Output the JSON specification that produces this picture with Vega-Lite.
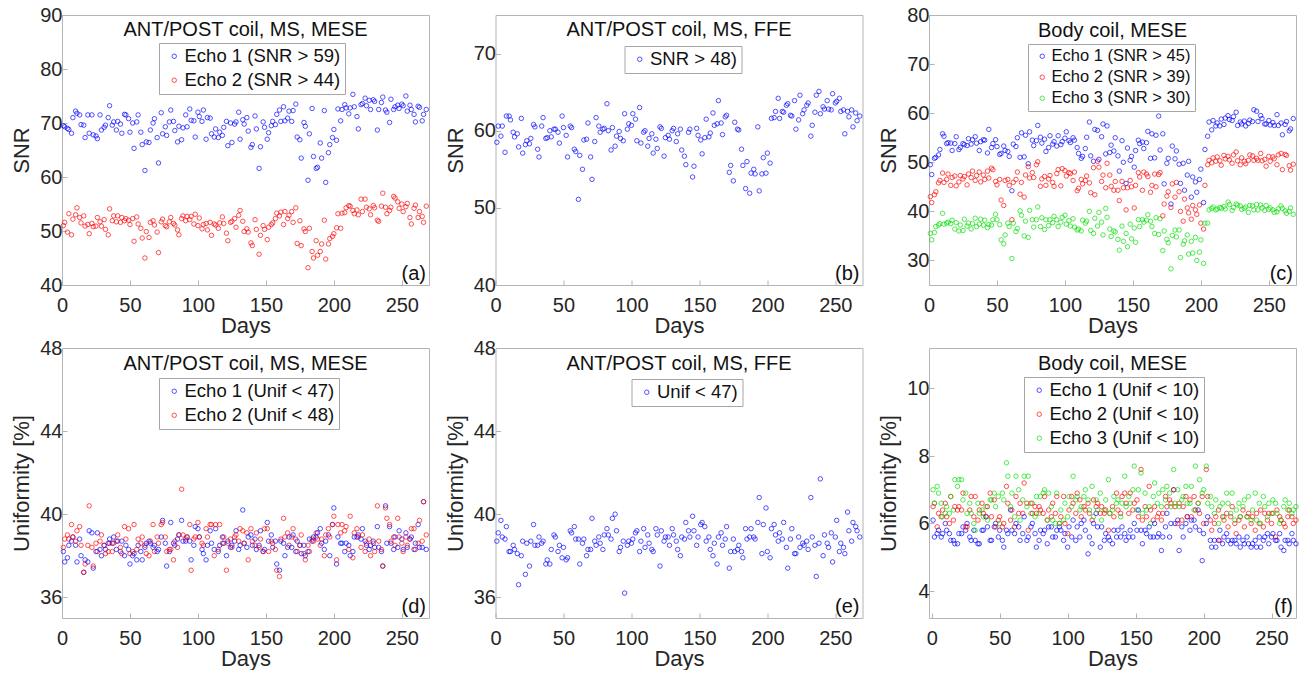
{
"$schema": "https://vega.github.io/schema/vega-lite/v6.json",
"autosize": {"type": "pad"},
"padding": {"left": 10, "top": 4, "right": 0, "bottom": 0},
"background": "white",
"datasets": {"t": [
{"d":1,"a1":69.5,"a2":51.0,"b":58.5,"c1":49.5,"c2":43.0,"c3":35.5,"u1":38.2,"u2":38.4,"e":38.7,"f1":6.1,"f2":6.5,"f3":7.0},
{"d":2,"a1":69.3,"a2":51.6,"b":60.6,"c1":47.5,"c2":41.8,"c3":34.2,"u1":37.7,"u2":38.8,"e":39.1,"f1":5.6,"f2":6.6,"f3":6.6},
{"d":4,"a1":69.0,"a2":49.8,"b":59.3,"c1":50.8,"c2":43.4,"c3":35.7,"u1":37.9,"u2":39.0,"e":39.7,"f1":5.7,"f2":5.9,"f3":7.1},
{"d":5,"a1":68.8,"a2":53.2,"b":60.6,"c1":51.0,"c2":44.0,"c3":36.9,"u1":38.5,"u2":38.8,"e":38.9,"f1":5.8,"f2":6.3,"f3":6.9},
{"d":7,"a1":68.1,"a2":49.3,"b":57.2,"c1":51.5,"c2":45.8,"c3":37.2,"u1":38.7,"u2":39.5,"e":38.8,"f1":5.6,"f2":6.2,"f3":6.6},
{"d":8,"a1":71.0,"a2":52.2,"b":61.9,"c1":52.6,"c2":46.3,"c3":37.5,"u1":38.9,"u2":38.9,"e":39.4,"f1":5.7,"f2":6.4,"f3":6.2},
{"d":10,"a1":72.2,"a2":53.0,"b":61.9,"c1":55.8,"c2":47.8,"c3":39.6,"u1":38.5,"u2":38.7,"e":38.2,"f1":6.0,"f2":6.6,"f3":6.3},
{"d":11,"a1":71.8,"a2":54.3,"b":61.4,"c1":55.3,"c2":45.9,"c3":37.4,"u1":37.7,"u2":39.2,"e":38.2,"f1":5.8,"f2":6.2,"f3":6.5},
{"d":13,"a1":71.5,"a2":52.5,"b":59.8,"c1":53.8,"c2":46.5,"c3":37.6,"u1":38.8,"u2":39.4,"e":38.5,"f1":5.7,"f2":6.0,"f3":6.3},
{"d":14,"a1":69.7,"a2":51.5,"b":59.2,"c1":54.0,"c2":47.6,"c3":37.8,"u1":38.0,"u2":38.5,"e":38.3,"f1":5.5,"f2":6.8,"f3":6.8},
{"d":16,"a1":69.6,"a2":52.8,"b":59.6,"c1":53.9,"c2":45.3,"c3":37.5,"u1":37.2,"u2":37.2,"e":38.1,"f1":5.5,"f2":6.1,"f3":6.4},
{"d":17,"a1":67.3,"a2":50.9,"b":57.9,"c1":52.4,"c2":46.9,"c3":38.2,"u1":37.8,"u2":37.6,"e":36.6,"f1":5.4,"f2":6.5,"f3":7.3},
{"d":19,"a1":71.5,"a2":51.2,"b":61.6,"c1":53.8,"c2":47.2,"c3":36.4,"u1":37.7,"u2":38.5,"e":38.0,"f1":5.4,"f2":6.4,"f3":7.1},
{"d":20,"a1":68.1,"a2":49.5,"b":57.1,"c1":55.2,"c2":45.2,"c3":37.7,"u1":39.2,"u2":40.4,"e":38.7,"f1":5.7,"f2":6.5,"f3":7.3},
{"d":22,"a1":71.5,"a2":51.4,"b":58.2,"c1":52.6,"c2":46.0,"c3":36.0,"u1":39.1,"u2":38.4,"e":37.1,"f1":5.7,"f2":6.4,"f3":7.3},
{"d":23,"a1":67.8,"a2":50.8,"b":58.7,"c1":53.0,"c2":47.3,"c3":37.2,"u1":37.4,"u2":37.5,"e":38.6,"f1":5.9,"f2":6.9,"f3":6.7},
{"d":25,"a1":67.6,"a2":50.9,"b":58.3,"c1":53.8,"c2":46.6,"c3":36.1,"u1":38.2,"u2":38.6,"e":37.5,"f1":5.8,"f2":5.9,"f3":6.9},
{"d":26,"a1":67.1,"a2":52.5,"b":59.0,"c1":53.6,"c2":47.1,"c3":38.4,"u1":39.1,"u2":38.2,"e":38.7,"f1":6.0,"f2":5.9,"f3":6.3},
{"d":28,"a1":71.5,"a2":51.7,"b":60.8,"c1":53.4,"c2":45.4,"c3":37.0,"u1":38.3,"u2":38.7,"e":39.5,"f1":5.6,"f2":6.4,"f3":6.6},
{"d":29,"a1":68.7,"a2":50.9,"b":60.5,"c1":54.8,"c2":47.6,"c3":37.6,"u1":38.0,"u2":39.0,"e":38.5,"f1":5.5,"f2":6.8,"f3":6.3},
{"d":31,"a1":69.2,"a2":52.1,"b":57.6,"c1":53.7,"c2":46.9,"c3":36.4,"u1":38.5,"u2":38.5,"e":38.5,"f1":5.8,"f2":6.2,"f3":6.0},
{"d":32,"a1":69.6,"a2":50.3,"b":56.6,"c1":54.6,"c2":48.2,"c3":37.5,"u1":38.3,"u2":38.1,"e":38.9,"f1":5.5,"f2":6.8,"f3":5.8},
{"d":34,"a1":71.0,"a2":49.3,"b":60.6,"c1":55.2,"c2":46.3,"c3":38.6,"u1":38.6,"u2":38.2,"e":38.6,"f1":5.4,"f2":6.1,"f3":6.6},
{"d":35,"a1":73.2,"a2":54.1,"b":61.7,"c1":53.9,"c2":47.3,"c3":36.9,"u1":38.8,"u2":38.6,"e":38.7,"f1":5.4,"f2":6.4,"f3":6.3},
{"d":37,"a1":69.6,"a2":51.9,"b":59.0,"c1":52.4,"c2":48.0,"c3":37.4,"u1":38.6,"u2":38.2,"e":37.6,"f1":5.8,"f2":6.6,"f3":6.4},
{"d":38,"a1":70.2,"a2":52.8,"b":59.1,"c1":54.2,"c2":46.0,"c3":38.4,"u1":38.9,"u2":38.6,"e":37.8,"f1":5.8,"f2":6.3,"f3":6.2},
{"d":40,"a1":68.7,"a2":51.7,"b":60.0,"c1":54.6,"c2":47.4,"c3":37.2,"u1":38.3,"u2":38.7,"e":37.6,"f1":6.2,"f2":6.2,"f3":6.5},
{"d":41,"a1":70.3,"a2":52.8,"b":59.2,"c1":54.5,"c2":46.5,"c3":38.2,"u1":38.7,"u2":39.0,"e":38.3,"f1":5.9,"f2":6.5,"f3":6.1},
{"d":43,"a1":69.8,"a2":51.6,"b":60.2,"c1":51.9,"c2":48.2,"c3":36.7,"u1":38.2,"u2":38.4,"e":39.0,"f1":5.5,"f2":6.9,"f3":6.7},
{"d":44,"a1":68.1,"a2":52.5,"b":60.2,"c1":56.7,"c2":46.8,"c3":37.3,"u1":38.7,"u2":38.1,"e":38.9,"f1":5.5,"f2":6.2,"f3":6.7},
{"d":46,"a1":71.6,"a2":51.9,"b":59.8,"c1":53.0,"c2":48.8,"c3":37.2,"u1":38.0,"u2":39.4,"e":38.2,"f1":5.9,"f2":6.7,"f3":6.9},
{"d":47,"a1":71.5,"a2":52.3,"b":58.4,"c1":53.8,"c2":48.5,"c3":38.3,"u1":38.5,"u2":38.8,"e":38.5,"f1":6.0,"f2":5.9,"f3":6.5},
{"d":49,"a1":70.8,"a2":52.0,"b":61.9,"c1":54.6,"c2":46.1,"c3":39.4,"u1":38.3,"u2":39.3,"e":37.9,"f1":5.6,"f2":6.1,"f3":6.8},
{"d":50,"a1":68.3,"a2":51.2,"b":60.4,"c1":53.2,"c2":45.4,"c3":38.3,"u1":37.6,"u2":38.1,"e":38.4,"f1":5.8,"f2":6.2,"f3":6.0},
{"d":52,"a1":70.0,"a2":52.3,"b":59.4,"c1":51.6,"c2":46.5,"c3":37.3,"u1":38.0,"u2":38.2,"e":37.8,"f1":5.5,"f2":5.9,"f3":6.9},
{"d":53,"a1":65.3,"a2":48.1,"b":56.6,"c1":51.8,"c2":42.3,"c3":34.2,"u1":38.1,"u2":39.5,"e":37.9,"f1":5.3,"f2":6.0,"f3":6.7},
{"d":55,"a1":70.2,"a2":52.6,"b":60.6,"c1":53.3,"c2":41.2,"c3":33.4,"u1":37.8,"u2":38.3,"e":39.2,"f1":5.8,"f2":7.1,"f3":7.8},
{"d":56,"a1":71.5,"a2":51.3,"b":60.4,"c1":52.4,"c2":46.3,"c3":35.2,"u1":38.5,"u2":38.8,"e":39.1,"f1":5.7,"f2":6.6,"f3":7.4},
{"d":58,"a1":68.3,"a2":50.5,"b":57.6,"c1":52.2,"c2":46.5,"c3":37.6,"u1":38.2,"u2":38.6,"e":39.4,"f1":6.4,"f2":6.1,"f3":6.5},
{"d":59,"a1":66.0,"a2":48.7,"b":57.3,"c1":51.2,"c2":45.3,"c3":36.9,"u1":37.8,"u2":38.9,"e":38.8,"f1":5.8,"f2":6.4,"f3":6.9},
{"d":61,"a1":61.2,"a2":45.0,"b":51.1,"c1":44.2,"c2":38.3,"c3":30.4,"u1":38.4,"u2":38.5,"e":38.8,"f1":5.7,"f2":5.9,"f3":6.2},
{"d":62,"a1":66.5,"a2":49.9,"b":56.8,"c1":53.7,"c2":45.9,"c3":37.6,"u1":38.6,"u2":38.1,"e":37.6,"f1":6.0,"f2":6.8,"f3":7.4},
{"d":64,"a1":66.4,"a2":48.8,"b":55.0,"c1":53.2,"c2":46.5,"c3":35.9,"u1":38.7,"u2":38.0,"e":38.6,"f1":5.9,"f2":6.3,"f3":7.0},
{"d":65,"a1":68.7,"a2":51.6,"b":58.8,"c1":55.0,"c2":48.0,"c3":36.5,"u1":38.6,"u2":38.7,"e":38.8,"f1":5.5,"f2":6.6,"f3":6.1},
{"d":67,"a1":70.0,"a2":51.9,"b":58.9,"c1":51.0,"c2":43.5,"c3":40.1,"u1":38.4,"u2":39.5,"e":38.0,"f1":5.7,"f2":6.3,"f3":6.7},
{"d":68,"a1":70.8,"a2":51.1,"b":61.0,"c1":56.0,"c2":45.9,"c3":39.2,"u1":38.5,"u2":38.2,"e":38.3,"f1":6.2,"f2":7.2,"f3":7.4},
{"d":70,"a1":67.3,"a2":49.8,"b":56.6,"c1":51.1,"c2":42.9,"c3":35.0,"u1":38.2,"u2":38.9,"e":38.3,"f1":5.5,"f2":6.6,"f3":6.5},
{"d":71,"a1":62.6,"a2":46.0,"b":53.7,"c1":55.5,"c2":47.4,"c3":38.0,"u1":38.3,"u2":38.6,"e":39.8,"f1":5.6,"f2":5.8,"f3":7.4},
{"d":73,"a1":71.9,"a2":51.7,"b":58.6,"c1":49.7,"c2":49.1,"c3":34.7,"u1":38.9,"u2":39.5,"e":38.7,"f1":5.9,"f2":6.6,"f3":6.3},
{"d":74,"a1":68.0,"a2":52.2,"b":61.7,"c1":56.2,"c2":46.8,"c3":40.2,"u1":39.7,"u2":39.6,"e":38.5,"f1":6.0,"f2":6.3,"f3":6.6},
{"d":76,"a1":69.3,"a2":51.0,"b":60.6,"c1":54.5,"c2":47.9,"c3":38.3,"u1":38.6,"u2":38.9,"e":38.9,"f1":5.7,"f2":6.5,"f3":6.2},
{"d":77,"a1":67.7,"a2":50.8,"b":59.8,"c1":53.4,"c2":46.9,"c3":36.8,"u1":37.5,"u2":38.2,"e":38.6,"f1":5.3,"f2":6.3,"f3":6.8},
{"d":79,"a1":70.2,"a2":51.7,"b":60.2,"c1":54.4,"c2":49.5,"c3":38.3,"u1":38.2,"u2":38.3,"e":38.3,"f1":5.5,"f2":6.5,"f3":6.3},
{"d":80,"a1":72.4,"a2":52.5,"b":60.3,"c1":57.5,"c2":50.1,"c3":40.9,"u1":39.6,"u2":38.3,"e":39.0,"f1":5.8,"f2":6.4,"f3":6.8},
{"d":82,"a1":70.3,"a2":51.4,"b":63.5,"c1":55.1,"c2":45.1,"c3":36.9,"u1":38.6,"u2":37.8,"e":39.3,"f1":5.7,"f2":6.3,"f3":6.9},
{"d":83,"a1":68.6,"a2":51.1,"b":60.0,"c1":53.9,"c2":46.6,"c3":38.7,"u1":38.5,"u2":38.7,"e":39.0,"f1":5.8,"f2":6.8,"f3":7.0},
{"d":85,"a1":66.5,"a2":50.2,"b":57.5,"c1":54.7,"c2":47.1,"c3":36.3,"u1":38.8,"u2":38.4,"e":38.8,"f1":5.4,"f2":6.1,"f3":6.1},
{"d":86,"a1":69.4,"a2":49.3,"b":60.4,"c1":52.2,"c2":45.3,"c3":38.3,"u1":39.0,"u2":39.0,"e":39.8,"f1":5.9,"f2":6.4,"f3":6.9},
{"d":88,"a1":66.9,"a2":52.3,"b":58.0,"c1":53.0,"c2":46.6,"c3":37.1,"u1":39.7,"u2":41.2,"e":40.0,"f1":5.9,"f2":6.2,"f3":6.5},
{"d":89,"a1":69.1,"a2":52.8,"b":59.3,"c1":55.4,"c2":47.3,"c3":38.3,"u1":38.7,"u2":39.0,"e":39.2,"f1":5.6,"f2":6.6,"f3":6.1},
{"d":91,"a1":71.5,"a2":51.9,"b":59.9,"c1":53.7,"c2":45.9,"c3":37.7,"u1":38.7,"u2":38.8,"e":38.2,"f1":5.6,"f2":6.3,"f3":6.0},
{"d":92,"a1":69.3,"a2":52.7,"b":59.0,"c1":54.2,"c2":45.1,"c3":39.0,"u1":38.9,"u2":38.9,"e":38.4,"f1":5.8,"f2":6.8,"f3":6.9},
{"d":94,"a1":72.6,"a2":52.1,"b":58.7,"c1":53.3,"c2":47.7,"c3":38.3,"u1":38.7,"u2":39.5,"e":38.7,"f1":5.9,"f2":6.0,"f3":6.0},
{"d":95,"a1":70.5,"a2":52.7,"b":62.2,"c1":55.4,"c2":48.5,"c3":36.9,"u1":37.8,"u2":37.3,"e":36.2,"f1":5.8,"f2":6.2,"f3":6.4},
{"d":97,"a1":70.4,"a2":51.3,"b":60.2,"c1":53.6,"c2":45.2,"c3":37.8,"u1":38.5,"u2":38.8,"e":38.5,"f1":5.5,"f2":6.8,"f3":6.1},
{"d":98,"a1":67.4,"a2":53.1,"b":60.9,"c1":54.2,"c2":48.7,"c3":38.8,"u1":39.4,"u2":38.9,"e":38.7,"f1":5.7,"f2":6.0,"f3":6.6},
{"d":100,"a1":72.0,"a2":51.0,"b":60.7,"c1":54.9,"c2":48.3,"c3":39.2,"u1":39.3,"u2":39.6,"e":38.6,"f1":5.3,"f2":5.7,"f3":6.2},
{"d":101,"a1":71.2,"a2":52.4,"b":62.2,"c1":56.2,"c2":47.2,"c3":37.4,"u1":38.9,"u2":38.9,"e":38.8,"f1":5.9,"f2":6.4,"f3":6.8},
{"d":103,"a1":70.3,"a2":50.4,"b":61.5,"c1":54.4,"c2":47.9,"c3":38.1,"u1":38.3,"u2":38.6,"e":39.1,"f1":5.6,"f2":6.8,"f3":6.5},
{"d":104,"a1":72.4,"a2":51.2,"b":58.7,"c1":54.0,"c2":47.7,"c3":37.0,"u1":38.1,"u2":38.5,"e":39.2,"f1":6.1,"f2":6.6,"f3":7.4},
{"d":106,"a1":67.0,"a2":51.4,"b":63.0,"c1":55.0,"c2":46.3,"c3":38.5,"u1":37.8,"u2":39.3,"e":38.2,"f1":5.5,"f2":6.3,"f3":6.7},
{"d":107,"a1":71.0,"a2":50.2,"b":58.4,"c1":54.5,"c2":48.0,"c3":36.8,"u1":38.5,"u2":38.9,"e":38.7,"f1":5.9,"f2":6.9,"f3":6.8},
{"d":109,"a1":70.9,"a2":51.6,"b":59.8,"c1":53.0,"c2":44.2,"c3":36.2,"u1":39.2,"u2":39.5,"e":39.3,"f1":5.6,"f2":6.7,"f3":6.4},
{"d":110,"a1":68.0,"a2":49.2,"b":60.0,"c1":51.8,"c2":44.7,"c3":36.4,"u1":38.6,"u2":39.5,"e":38.4,"f1":6.0,"f2":6.2,"f3":6.5},
{"d":112,"a1":67.4,"a2":51.3,"b":58.0,"c1":50.8,"c2":46.5,"c3":36.0,"u1":38.3,"u2":38.0,"e":39.0,"f1":6.1,"f2":6.5,"f3":6.8},
{"d":113,"a1":68.9,"a2":51.1,"b":59.0,"c1":51.2,"c2":45.6,"c3":38.2,"u1":39.3,"u2":39.5,"e":38.6,"f1":5.8,"f2":6.4,"f3":7.0},
{"d":115,"a1":67.3,"a2":50.5,"b":59.6,"c1":52.8,"c2":46.3,"c3":37.6,"u1":38.2,"u2":38.3,"e":38.3,"f1":5.1,"f2":6.6,"f3":6.7},
{"d":116,"a1":68.3,"a2":51.5,"b":57.1,"c1":55.1,"c2":47.2,"c3":38.0,"u1":38.5,"u2":39.5,"e":38.2,"f1":5.6,"f2":6.3,"f3":6.4},
{"d":118,"a1":67.7,"a2":52.6,"b":58.9,"c1":58.2,"c2":45.8,"c3":40.0,"u1":38.9,"u2":38.6,"e":39.3,"f1":5.4,"f2":6.1,"f3":7.1},
{"d":119,"a1":69.2,"a2":51.4,"b":57.7,"c1":51.3,"c2":43.8,"c3":36.1,"u1":38.6,"u2":38.9,"e":39.0,"f1":6.0,"f2":6.7,"f3":6.2},
{"d":121,"a1":70.3,"a2":49.6,"b":60.5,"c1":50.2,"c2":48.9,"c3":35.5,"u1":38.0,"u2":37.3,"e":37.5,"f1":6.3,"f2":6.5,"f3":6.7},
{"d":122,"a1":65.8,"a2":48.2,"b":60.3,"c1":56.7,"c2":43.4,"c3":38.6,"u1":38.7,"u2":38.6,"e":39.2,"f1":5.9,"f2":6.6,"f3":6.4},
{"d":124,"a1":70.0,"a2":51.6,"b":56.7,"c1":56.5,"c2":50.2,"c3":37.0,"u1":38.4,"u2":38.8,"e":38.7,"f1":5.3,"f2":6.3,"f3":6.9},
{"d":125,"a1":66.4,"a2":51.8,"b":59.1,"c1":50.6,"c2":49.0,"c3":39.8,"u1":38.5,"u2":38.4,"e":38.9,"f1":5.9,"f2":6.5,"f3":6.1},
{"d":127,"a1":69.8,"a2":52.3,"b":59.4,"c1":55.2,"c2":46.1,"c3":37.8,"u1":38.7,"u2":38.9,"e":38.9,"f1":5.5,"f2":6.3,"f3":6.4},
{"d":128,"a1":70.2,"a2":50.7,"b":58.9,"c1":57.8,"c2":47.4,"c3":35.2,"u1":39.2,"u2":39.0,"e":38.5,"f1":5.7,"f2":6.4,"f3":6.7},
{"d":130,"a1":72.0,"a2":52.9,"b":60.0,"c1":51.7,"c2":44.8,"c3":40.6,"u1":38.3,"u2":38.7,"e":39.3,"f1":5.6,"f2":5.8,"f3":7.3},
{"d":131,"a1":67.0,"a2":53.8,"b":60.3,"c1":57.4,"c2":49.8,"c3":38.8,"u1":38.5,"u2":39.3,"e":39.0,"f1":5.5,"f2":6.3,"f3":6.3},
{"d":133,"a1":70.6,"a2":51.8,"b":58.6,"c1":52.0,"c2":47.4,"c3":36.4,"u1":40.2,"u2":39.2,"e":38.7,"f1":5.4,"f2":6.5,"f3":6.4},
{"d":134,"a1":69.8,"a2":49.9,"b":59.6,"c1":53.5,"c2":45.1,"c3":34.9,"u1":38.6,"u2":38.6,"e":38.3,"f1":5.8,"f2":6.2,"f3":6.8},
{"d":136,"a1":71.0,"a2":50.4,"b":60.2,"c1":52.3,"c2":44.3,"c3":36.0,"u1":38.4,"u2":39.1,"e":38.0,"f1":5.6,"f2":6.9,"f3":6.6},
{"d":137,"a1":68.5,"a2":49.8,"b":57.5,"c1":55.0,"c2":46.1,"c3":35.8,"u1":38.9,"u2":37.8,"e":38.9,"f1":5.8,"f2":6.4,"f3":6.7},
{"d":139,"a1":65.5,"a2":47.8,"b":56.7,"c1":51.3,"c2":44.3,"c3":34.3,"u1":39.0,"u2":39.3,"e":38.8,"f1":5.6,"f2":6.3,"f3":6.2},
{"d":140,"a1":66.0,"a2":47.3,"b":55.6,"c1":48.2,"c2":42.2,"c3":32.1,"u1":38.5,"u2":38.7,"e":39.6,"f1":5.9,"f2":6.8,"f3":6.6},
{"d":142,"a1":71.3,"a2":52.1,"b":59.8,"c1":54.4,"c2":46.1,"c3":37.0,"u1":38.8,"u2":38.5,"e":39.2,"f1":5.7,"f2":6.9,"f3":7.4},
{"d":143,"a1":68.9,"a2":50.3,"b":60.2,"c1":50.0,"c2":44.8,"c3":33.9,"u1":38.3,"u2":39.1,"e":38.9,"f1":5.5,"f2":6.6,"f3":6.5},
{"d":145,"a1":61.6,"a2":45.7,"b":54.0,"c1":45.7,"c2":40.3,"c3":35.5,"u1":38.5,"u2":38.4,"e":39.9,"f1":5.6,"f2":6.3,"f3":6.8},
{"d":146,"a1":65.6,"a2":49.2,"b":55.4,"c1":52.9,"c2":44.8,"c3":32.8,"u1":39.2,"u2":38.8,"e":39.2,"f1":5.8,"f2":6.9,"f3":6.6},
{"d":148,"a1":70.2,"a2":51.0,"b":60.3,"c1":50.4,"c2":46.3,"c3":37.4,"u1":38.2,"u2":38.2,"e":38.5,"f1":5.6,"f2":6.4,"f3":7.0},
{"d":149,"a1":69.2,"a2":50.3,"b":59.4,"c1":51.2,"c2":45.0,"c3":34.4,"u1":38.3,"u2":39.3,"e":38.9,"f1":6.0,"f2":6.6,"f3":7.7},
{"d":151,"a1":67.0,"a2":48.4,"b":58.8,"c1":49.0,"c2":40.7,"c3":36.6,"u1":39.6,"u2":39.3,"e":39.5,"f1":5.8,"f2":6.7,"f3":6.4},
{"d":152,"a1":68.2,"a2":50.7,"b":57.0,"c1":52.4,"c2":45.3,"c3":33.7,"u1":38.7,"u2":38.2,"e":39.6,"f1":6.4,"f2":6.2,"f3":7.0},
{"d":154,"a1":69.5,"a2":51.2,"b":59.1,"c1":54.5,"c2":47.9,"c3":38.3,"u1":39.0,"u2":38.7,"e":39.4,"f1":5.8,"f2":7.6,"f3":7.5},
{"d":155,"a1":70.3,"a2":51.5,"b":61.5,"c1":53.8,"c2":47.0,"c3":36.9,"u1":38.4,"u2":38.6,"e":38.7,"f1":5.4,"f2":6.1,"f3":6.3},
{"d":157,"a1":69.7,"a2":52.3,"b":59.2,"c1":54.1,"c2":44.3,"c3":38.3,"u1":38.7,"u2":38.3,"e":38.9,"f1":5.8,"f2":6.5,"f3":6.9},
{"d":158,"a1":71.6,"a2":53.3,"b":59.7,"c1":52.8,"c2":48.0,"c3":37.8,"u1":37.6,"u2":37.3,"e":38.3,"f1":5.7,"f2":6.2,"f3":6.4},
{"d":160,"a1":72.4,"a2":52.8,"b":62.3,"c1":54.0,"c2":47.6,"c3":38.2,"u1":37.3,"u2":37.0,"e":38.0,"f1":5.9,"f2":7.1,"f3":6.5},
{"d":161,"a1":70.3,"a2":53.5,"b":60.7,"c1":56.3,"c2":47.1,"c3":39.3,"u1":38.7,"u2":38.8,"e":38.6,"f1":5.6,"f2":6.4,"f3":6.0},
{"d":163,"a1":73.0,"a2":51.2,"b":60.9,"c1":50.8,"c2":43.9,"c3":38.0,"u1":38.6,"u2":39.8,"e":37.6,"f1":5.6,"f2":6.1,"f3":6.8},
{"d":164,"a1":70.4,"a2":53.6,"b":63.9,"c1":55.8,"c2":45.3,"c3":36.9,"u1":38.0,"u2":38.9,"e":38.9,"f1":6.0,"f2":6.5,"f3":7.2},
{"d":166,"a1":70.9,"a2":52.3,"b":61.0,"c1":50.9,"c2":47.6,"c3":35.5,"u1":38.4,"u2":39.1,"e":39.1,"f1":5.6,"f2":6.2,"f3":6.6},
{"d":167,"a1":72.2,"a2":52.9,"b":59.5,"c1":55.5,"c2":45.0,"c3":38.7,"u1":38.9,"u2":38.5,"e":38.5,"f1":5.7,"f2":6.3,"f3":6.9},
{"d":169,"a1":70.3,"a2":53.6,"b":61.8,"c1":59.4,"c2":47.5,"c3":35.3,"u1":38.4,"u2":38.9,"e":38.8,"f1":5.2,"f2":6.1,"f3":6.5},
{"d":170,"a1":72.3,"a2":51.6,"b":62.0,"c1":52.5,"c2":47.9,"c3":38.5,"u1":39.0,"u2":39.3,"e":39.4,"f1":5.6,"f2":6.3,"f3":7.0},
{"d":172,"a1":73.5,"a2":54.3,"b":54.6,"c1":55.8,"c2":39.1,"c3":32.0,"u1":38.2,"u2":38.8,"e":37.4,"f1":5.9,"f2":6.8,"f3":6.7},
{"d":173,"a1":67.4,"a2":47.7,"b":55.5,"c1":45.6,"c2":41.5,"c3":36.0,"u1":38.7,"u2":38.2,"e":38.2,"f1":6.3,"f2":6.5,"f3":7.1},
{"d":175,"a1":66.9,"a2":51.9,"b":53.5,"c1":49.8,"c2":43.1,"c3":34.3,"u1":38.5,"u2":38.5,"e":38.8,"f1":5.6,"f2":6.7,"f3":6.9},
{"d":176,"a1":63.5,"a2":47.3,"b":61.1,"c1":50.8,"c2":44.0,"c3":33.6,"u1":38.1,"u2":39.0,"e":38.2,"f1":6.0,"f2":6.6,"f3":6.5},
{"d":178,"a1":70.1,"a2":50.4,"b":60.2,"c1":41.5,"c2":40.8,"c3":28.3,"u1":38.5,"u2":38.1,"e":38.3,"f1":7.0,"f2":7.0,"f3":7.6},
{"d":179,"a1":69.4,"a2":49.9,"b":60.1,"c1":53.3,"c2":45.6,"c3":35.1,"u1":38.0,"u2":37.8,"e":38.5,"f1":6.0,"f2":6.5,"f3":6.6},
{"d":181,"a1":59.4,"a2":43.2,"b":57.6,"c1":50.7,"c2":42.9,"c3":36.2,"u1":38.2,"u2":38.5,"e":38.2,"f1":6.1,"f2":6.0,"f3":7.0},
{"d":182,"a1":68.0,"a2":50.5,"b":55.5,"c1":52.3,"c2":45.9,"c3":34.8,"u1":38.8,"u2":38.2,"e":37.9,"f1":5.2,"f2":6.6,"f3":6.5},
{"d":184,"a1":72.7,"a2":46.2,"b":52.5,"c1":49.6,"c2":44.0,"c3":36.2,"u1":38.7,"u2":38.8,"e":39.3,"f1":5.9,"f2":6.1,"f3":6.7},
{"d":185,"a1":63.8,"a2":45.0,"b":56.0,"c1":45.7,"c2":40.0,"c3":30.6,"u1":38.9,"u2":38.7,"e":38.8,"f1":5.6,"f2":6.5,"f3":6.8},
{"d":187,"a1":61.6,"a2":48.2,"b":51.9,"c1":49.8,"c2":38.0,"c3":33.3,"u1":38.9,"u2":39.1,"e":38.9,"f1":6.0,"f2":6.8,"f3":7.1},
{"d":188,"a1":61.8,"a2":45.5,"b":54.5,"c1":44.3,"c2":42.5,"c3":34.0,"u1":39.1,"u2":38.8,"e":39.3,"f1":6.2,"f2":6.2,"f3":6.6},
{"d":190,"a1":66.3,"a2":46.2,"b":55.0,"c1":47.4,"c2":40.7,"c3":35.2,"u1":39.3,"u2":38.5,"e":38.9,"f1":5.8,"f2":6.7,"f3":6.6},
{"d":191,"a1":63.5,"a2":47.6,"b":54.4,"c1":50.2,"c2":39.7,"c3":31.3,"u1":38.6,"u2":38.8,"e":38.8,"f1":6.1,"f2":6.2,"f3":7.1},
{"d":193,"a1":72.3,"a2":52.0,"b":60.5,"c1":42.9,"c2":38.4,"c3":33.9,"u1":38.3,"u2":38.0,"e":39.6,"f1":6.1,"f2":6.8,"f3":6.4},
{"d":194,"a1":59.0,"a2":44.8,"b":52.2,"c1":47.0,"c2":41.2,"c3":31.5,"u1":38.7,"u2":39.0,"e":40.8,"f1":5.9,"f2":6.4,"f3":7.7},
{"d":196,"a1":64.5,"a2":47.6,"b":54.4,"c1":46.0,"c2":40.3,"c3":34.7,"u1":39.0,"u2":39.3,"e":38.1,"f1":6.4,"f2":6.6,"f3":6.6},
{"d":197,"a1":66.0,"a2":48.6,"b":56.5,"c1":43.9,"c2":39.4,"c3":30.0,"u1":38.0,"u2":38.9,"e":39.5,"f1":5.8,"f2":6.3,"f3":7.3},
{"d":199,"a1":67.3,"a2":49.0,"b":54.5,"c1":46.5,"c2":41.3,"c3":31.7,"u1":39.5,"u2":39.5,"e":40.3,"f1":4.9,"f2":6.8,"f3":6.9},
{"d":200,"a1":68.8,"a2":49.5,"b":57.1,"c1":48.6,"c2":37.6,"c3":34.2,"u1":40.3,"u2":39.9,"e":38.2,"f1":5.7,"f2":6.0,"f3":7.0},
{"d":202,"a1":66.8,"a2":50.6,"b":55.8,"c1":41.8,"c2":36.4,"c3":29.4,"u1":37.6,"u2":37.8,"e":37.9,"f1":6.0,"f2":7.6,"f3":7.7},
{"d":203,"a1":72.6,"a2":53.2,"b":61.6,"c1":52.6,"c2":45.3,"c3":37.6,"u1":38.9,"u2":39.5,"e":39.3,"f1":6.2,"f2":6.8,"f3":6.6},
{"d":205,"a1":70.4,"a2":50.5,"b":61.7,"c1":55.3,"c2":49.5,"c3":37.6,"u1":38.6,"u2":39.1,"e":39.5,"f1":5.5,"f2":6.1,"f3":6.8},
{"d":206,"a1":72.5,"a2":53.3,"b":62.5,"c1":58.2,"c2":50.4,"c3":40.3,"u1":38.6,"u2":39.5,"e":39.0,"f1":5.3,"f2":5.8,"f3":6.5},
{"d":208,"a1":73.4,"a2":53.4,"b":64.2,"c1":56.6,"c2":49.9,"c3":40.6,"u1":38.2,"u2":39.2,"e":38.7,"f1":5.5,"f2":6.0,"f3":6.3},
{"d":209,"a1":72.8,"a2":54.3,"b":61.6,"c1":58.5,"c2":50.9,"c3":40.9,"u1":38.6,"u2":39.4,"e":39.1,"f1":5.3,"f2":6.2,"f3":6.7},
{"d":211,"a1":71.7,"a2":54.7,"b":62.5,"c1":57.4,"c2":50.2,"c3":40.3,"u1":38.5,"u2":38.3,"e":38.8,"f1":5.5,"f2":6.4,"f3":6.0},
{"d":212,"a1":72.8,"a2":54.6,"b":62.4,"c1":58.0,"c2":51.1,"c3":40.5,"u1":38.0,"u2":39.9,"e":39.6,"f1":5.8,"f2":5.5,"f3":6.5},
{"d":214,"a1":75.3,"a2":53.8,"b":63.3,"c1":57.4,"c2":50.3,"c3":40.8,"u1":38.2,"u2":37.9,"e":38.4,"f1":5.4,"f2":6.2,"f3":6.6},
{"d":215,"a1":73.0,"a2":53.2,"b":63.5,"c1":58.8,"c2":49.4,"c3":40.6,"u1":38.9,"u2":39.1,"e":37.4,"f1":5.6,"f2":6.1,"f3":6.2},
{"d":217,"a1":71.2,"a2":53.9,"b":62.0,"c1":57.7,"c2":51.4,"c3":41.0,"u1":38.9,"u2":39.3,"e":38.8,"f1":5.7,"f2":6.3,"f3":6.9},
{"d":218,"a1":68.9,"a2":53.0,"b":61.9,"c1":59.0,"c2":50.7,"c3":40.5,"u1":39.0,"u2":38.9,"e":39.3,"f1":5.5,"f2":5.9,"f3":6.6},
{"d":220,"a1":73.4,"a2":55.9,"b":63.9,"c1":59.5,"c2":51.2,"c3":41.9,"u1":38.8,"u2":38.4,"e":38.1,"f1":5.4,"f2":6.2,"f3":6.3},
{"d":221,"a1":73.6,"a2":53.6,"b":60.2,"c1":58.7,"c2":50.5,"c3":41.4,"u1":39.3,"u2":39.0,"e":38.1,"f1":5.5,"f2":6.5,"f3":6.9},
{"d":223,"a1":74.6,"a2":55.9,"b":61.4,"c1":58.5,"c2":49.8,"c3":40.2,"u1":38.7,"u2":38.2,"e":38.9,"f1":5.5,"f2":6.0,"f3":6.1},
{"d":224,"a1":73.2,"a2":54.4,"b":64.6,"c1":59.3,"c2":51.5,"c3":40.8,"u1":38.5,"u2":38.6,"e":38.4,"f1":5.4,"f2":5.7,"f3":6.4},
{"d":226,"a1":74.2,"a2":54.1,"b":62.2,"c1":60.2,"c2":52.1,"c3":41.5,"u1":38.3,"u2":38.8,"e":38.6,"f1":5.6,"f2":6.1,"f3":6.6},
{"d":227,"a1":72.5,"a2":53.0,"b":62.7,"c1":57.5,"c2":50.3,"c3":41.3,"u1":38.5,"u2":38.0,"e":38.5,"f1":5.3,"f2":6.2,"f3":6.2},
{"d":229,"a1":74.3,"a2":54.7,"b":63.3,"c1":58.2,"c2":49.5,"c3":41.1,"u1":38.7,"u2":38.6,"e":38.7,"f1":5.5,"f2":6.4,"f3":6.5},
{"d":230,"a1":74.0,"a2":54.3,"b":63.6,"c1":57.8,"c2":50.9,"c3":40.4,"u1":38.4,"u2":38.2,"e":38.3,"f1":5.4,"f2":5.9,"f3":6.7},
{"d":232,"a1":68.7,"a2":52.0,"b":59.3,"c1":58.4,"c2":50.2,"c3":40.6,"u1":39.4,"u2":40.4,"e":40.8,"f1":5.6,"f2":6.2,"f3":6.2},
{"d":233,"a1":72.5,"a2":51.8,"b":60.7,"c1":57.4,"c2":49.7,"c3":40.9,"u1":38.4,"u2":38.7,"e":38.9,"f1":5.4,"f2":6.3,"f3":6.8},
{"d":235,"a1":73.8,"a2":54.6,"b":62.4,"c1":57.9,"c2":50.4,"c3":39.8,"u1":38.2,"u2":38.3,"e":38.5,"f1":5.3,"f2":6.0,"f3":6.1},
{"d":236,"a1":74.8,"a2":57.0,"b":64.6,"c1":58.6,"c2":51.5,"c3":41.2,"u1":37.5,"u2":37.5,"e":37.0,"f1":5.4,"f2":6.2,"f3":6.4},
{"d":238,"a1":72.4,"a2":54.4,"b":65.1,"c1":58.3,"c2":51.3,"c3":41.1,"u1":40.4,"u2":40.3,"e":38.6,"f1":5.5,"f2":5.8,"f3":6.9},
{"d":239,"a1":72.0,"a2":53.2,"b":62.2,"c1":60.7,"c2":50.4,"c3":40.3,"u1":38.6,"u2":39.8,"e":41.7,"f1":5.3,"f2":6.3,"f3":6.1},
{"d":241,"a1":70.1,"a2":53.8,"b":63.1,"c1":60.4,"c2":50.8,"c3":41.4,"u1":39.4,"u2":39.5,"e":38.0,"f1":5.6,"f2":6.0,"f3":6.6},
{"d":242,"a1":74.4,"a2":54.4,"b":62.8,"c1":58.3,"c2":50.4,"c3":40.3,"u1":38.6,"u2":38.7,"e":39.0,"f1":5.3,"f2":6.4,"f3":6.0},
{"d":244,"a1":72.5,"a2":56.4,"b":63.9,"c1":59.5,"c2":51.8,"c3":41.3,"u1":38.3,"u2":38.9,"e":38.6,"f1":5.5,"f2":5.9,"f3":6.8},
{"d":245,"a1":73.0,"a2":56.1,"b":62.8,"c1":58.9,"c2":50.3,"c3":40.7,"u1":38.9,"u2":38.5,"e":38.4,"f1":5.6,"f2":6.3,"f3":6.5},
{"d":247,"a1":73.3,"a2":55.4,"b":62.7,"c1":57.8,"c2":50.6,"c3":40.2,"u1":38.4,"u2":39.8,"e":39.1,"f1":5.7,"f2":6.1,"f3":6.2},
{"d":248,"a1":72.7,"a2":54.2,"b":64.8,"c1":57.8,"c2":49.2,"c3":41.2,"u1":39.2,"u2":38.9,"e":37.7,"f1":5.4,"f2":6.3,"f3":6.6},
{"d":250,"a1":73.5,"a2":55.0,"b":63.6,"c1":58.5,"c2":51.2,"c3":40.4,"u1":38.8,"u2":38.6,"e":38.9,"f1":5.6,"f2":6.0,"f3":6.3},
{"d":251,"a1":73.2,"a2":53.6,"b":63.8,"c1":57.6,"c2":50.2,"c3":40.7,"u1":38.3,"u2":38.2,"e":39.7,"f1":5.7,"f2":6.3,"f3":6.7},
{"d":253,"a1":75.0,"a2":54.5,"b":64.2,"c1":58.1,"c2":51.1,"c3":40.3,"u1":39.1,"u2":38.9,"e":38.2,"f1":5.5,"f2":5.6,"f3":6.6},
{"d":254,"a1":72.2,"a2":55.1,"b":62.5,"c1":57.5,"c2":50.7,"c3":39.8,"u1":38.4,"u2":38.5,"e":38.6,"f1":5.5,"f2":6.4,"f3":6.3},
{"d":256,"a1":73.3,"a2":52.5,"b":62.7,"c1":59.7,"c2":49.5,"c3":39.9,"u1":38.8,"u2":38.8,"e":38.4,"f1":5.7,"f2":6.2,"f3":6.0},
{"d":257,"a1":72.5,"a2":51.3,"b":59.6,"c1":57.5,"c2":51.5,"c3":40.5,"u1":38.9,"u2":39.3,"e":38.1,"f1":5.3,"f2":6.1,"f3":6.1},
{"d":259,"a1":71.6,"a2":54.2,"b":62.5,"c1":58.0,"c2":51.8,"c3":41.1,"u1":38.3,"u2":39.3,"e":40.1,"f1":5.2,"f2":6.0,"f3":6.5},
{"d":260,"a1":70.2,"a2":54.8,"b":61.8,"c1":55.6,"c2":48.5,"c3":40.6,"u1":38.6,"u2":38.3,"e":39.2,"f1":5.5,"f2":5.9,"f3":6.7},
{"d":262,"a1":73.1,"a2":52.5,"b":62.7,"c1":57.7,"c2":51.6,"c3":40.1,"u1":39.5,"u2":38.6,"e":38.7,"f1":5.5,"f2":6.2,"f3":6.4},
{"d":263,"a1":72.9,"a2":53.6,"b":60.5,"c1":58.3,"c2":51.4,"c3":39.6,"u1":38.4,"u2":39.7,"e":39.6,"f1":5.4,"f2":6.4,"f3":6.6},
{"d":265,"a1":70.4,"a2":52.7,"b":62.3,"c1":56.4,"c2":49.3,"c3":40.0,"u1":38.4,"u2":38.7,"e":39.4,"f1":5.7,"f2":6.2,"f3":6.3},
{"d":266,"a1":71.6,"a2":51.6,"b":61.3,"c1":56.8,"c2":48.4,"c3":40.7,"u1":40.6,"u2":40.6,"e":39.2,"f1":5.5,"f2":6.0,"f3":6.4},
{"d":268,"a1":72.5,"a2":54.6,"b":61.9,"c1":58.9,"c2":49.6,"c3":39.4,"u1":38.3,"u2":39.0,"e":38.9,"f1":5.4,"f2":6.1,"f3":6.5}
]},
"concat": [
{"width": 367, "height": 270, "layer": [
 {"data": {"name": "t"}, "transform": [{"fold": ["a1","a2"], "as": ["k","v"]}],
  "mark": {"type": "point", "shape": "circle", "filled": false, "size": 20, "strokeWidth": 0.8, "opacity": 0.85},
  "encoding": {
   "x": {"field": "d", "type": "quantitative", "scale": {"domain": [0,270], "nice": false}, "axis": {"values": [0,50,100,150,200,250], "title": "Days"}},
   "y": {"field": "v", "type": "quantitative", "scale": {"domain": [40,90], "nice": false, "zero": false}, "axis": {"values": [40,50,60,70,80,90], "title": "SNR"}},
   "color": {"field": "k", "type": "nominal", "scale": {"domain": ["a1","a2"], "range": ["#0000ff","#ff0000"]},
     "legend": {"title": null, "orient": "none", "legendX": 97, "legendY": 28, "labelExpr": "datum.label == 'a1' ? 'Echo 1 (SNR > 59)' : 'Echo 2 (SNR > 44)'"}}}},
 {"data": {"values": [{}]}, "mark": {"type": "text", "text": "ANT/POST coil, MS, MESE", "fontSize": 20, "dy": 21, "baseline": "alphabetic", "align": "center", "color": "#111111"}, "encoding": {"x": {"datum": 135}, "y": {"datum": 90}}},
 {"data": {"values": [{}]}, "mark": {"type": "text", "text": "(a)", "fontSize": 20, "align": "right", "baseline": "alphabetic", "dx": -3, "dy": -5, "color": "#111111"}, "encoding": {"x": {"datum": 270}, "y": {"datum": 40}}}
]},
{"width": 367, "height": 270, "layer": [
 {"data": {"name": "t"}, "transform": [{"fold": ["b"], "as": ["k","v"]}],
  "mark": {"type": "point", "shape": "circle", "filled": false, "size": 20, "strokeWidth": 0.8, "opacity": 0.85},
  "encoding": {
   "x": {"field": "d", "type": "quantitative", "scale": {"domain": [0,270], "nice": false}, "axis": {"values": [0,50,100,150,200,250], "title": "Days"}},
   "y": {"field": "v", "type": "quantitative", "scale": {"domain": [40,75], "nice": false, "zero": false}, "axis": {"values": [40,50,60,70], "title": "SNR"}},
   "color": {"field": "k", "type": "nominal", "scale": {"domain": ["b"], "range": ["#0000ff"]},
     "legend": {"title": null, "orient": "none", "legendX": 129, "legendY": 31, "labelExpr": "'SNR > 48)'"}}}},
 {"data": {"values": [{}]}, "mark": {"type": "text", "text": "ANT/POST coil, MS, FFE", "fontSize": 20, "dy": 21, "baseline": "alphabetic", "align": "center", "color": "#111111"}, "encoding": {"x": {"datum": 135}, "y": {"datum": 75}}},
 {"data": {"values": [{}]}, "mark": {"type": "text", "text": "(b)", "fontSize": 20, "align": "right", "baseline": "alphabetic", "dx": -3, "dy": -5, "color": "#111111"}, "encoding": {"x": {"datum": 270}, "y": {"datum": 40}}}
]},
{"width": 367, "height": 270, "layer": [
 {"data": {"name": "t"}, "transform": [{"fold": ["c1","c2","c3"], "as": ["k","v"]}],
  "mark": {"type": "point", "shape": "circle", "filled": false, "size": 20, "strokeWidth": 0.8, "opacity": 0.85},
  "encoding": {
   "x": {"field": "d", "type": "quantitative", "scale": {"domain": [0,270], "nice": false}, "axis": {"values": [0,50,100,150,200,250], "title": "Days"}},
   "y": {"field": "v", "type": "quantitative", "scale": {"domain": [25,80], "nice": false, "zero": false}, "axis": {"values": [30,40,50,60,70,80], "title": "SNR"}},
   "color": {"field": "k", "type": "nominal", "scale": {"domain": ["c1","c2","c3"], "range": ["#0000ff","#ff0000","#00e000"]},
     "legend": {"title": null, "orient": "none", "legendX": 99, "legendY": 29, "labelFontSize": 16.5, "rowPadding": 4, "labelExpr": "datum.label == 'c1' ? 'Echo 1 (SNR > 45)' : datum.label == 'c2' ? 'Echo 2 (SNR > 39)' : 'Echo 3 (SNR > 30)'"}}}},
 {"data": {"values": [{}]}, "mark": {"type": "text", "text": "Body coil, MESE", "fontSize": 20, "dy": 22, "baseline": "alphabetic", "align": "center", "color": "#111111"}, "encoding": {"x": {"datum": 135}, "y": {"datum": 80}}},
 {"data": {"values": [{}]}, "mark": {"type": "text", "text": "(c)", "fontSize": 20, "align": "right", "baseline": "alphabetic", "dx": -3, "dy": -5, "color": "#111111"}, "encoding": {"x": {"datum": 270}, "y": {"datum": 25}}}
]},
{"width": 367, "height": 270, "layer": [
 {"data": {"name": "t"}, "transform": [{"fold": ["u1","u2"], "as": ["k","v"]}],
  "mark": {"type": "point", "shape": "circle", "filled": false, "size": 20, "strokeWidth": 0.8, "opacity": 0.85},
  "encoding": {
   "x": {"field": "d", "type": "quantitative", "scale": {"domain": [0,270], "nice": false}, "axis": {"values": [0,50,100,150,200,250], "title": "Days"}},
   "y": {"field": "v", "type": "quantitative", "scale": {"domain": [35,48], "nice": false, "zero": false}, "axis": {"values": [36,40,44,48], "title": "Uniformity [%]"}},
   "color": {"field": "k", "type": "nominal", "scale": {"domain": ["u1","u2"], "range": ["#0000ff","#ff0000"]},
     "legend": {"title": null, "orient": "none", "legendX": 97, "legendY": 30, "labelExpr": "datum.label == 'u1' ? 'Echo 1 (Unif < 47)' : 'Echo 2 (Unif < 48)'"}}}},
 {"data": {"values": [{}]}, "mark": {"type": "text", "text": "ANT/POST coil, MS, MESE", "fontSize": 20, "dy": 22, "baseline": "alphabetic", "align": "center", "color": "#111111"}, "encoding": {"x": {"datum": 135}, "y": {"datum": 48}}},
 {"data": {"values": [{}]}, "mark": {"type": "text", "text": "(d)", "fontSize": 20, "align": "right", "baseline": "alphabetic", "dx": -3, "dy": -5, "color": "#111111"}, "encoding": {"x": {"datum": 270}, "y": {"datum": 35}}}
]},
{"width": 367, "height": 270, "layer": [
 {"data": {"name": "t"}, "transform": [{"fold": ["e"], "as": ["k","v"]}],
  "mark": {"type": "point", "shape": "circle", "filled": false, "size": 20, "strokeWidth": 0.8, "opacity": 0.85},
  "encoding": {
   "x": {"field": "d", "type": "quantitative", "scale": {"domain": [0,270], "nice": false}, "axis": {"values": [0,50,100,150,200,250], "title": "Days"}},
   "y": {"field": "v", "type": "quantitative", "scale": {"domain": [35,48], "nice": false, "zero": false}, "axis": {"values": [36,40,44,48], "title": "Uniformity [%]"}},
   "color": {"field": "k", "type": "nominal", "scale": {"domain": ["e"], "range": ["#0000ff"]},
     "legend": {"title": null, "orient": "none", "legendX": 136, "legendY": 31, "labelExpr": "'Unif < 47)'"}}}},
 {"data": {"values": [{}]}, "mark": {"type": "text", "text": "ANT/POST coil, MS, FFE", "fontSize": 20, "dy": 22, "baseline": "alphabetic", "align": "center", "color": "#111111"}, "encoding": {"x": {"datum": 135}, "y": {"datum": 48}}},
 {"data": {"values": [{}]}, "mark": {"type": "text", "text": "(e)", "fontSize": 20, "align": "right", "baseline": "alphabetic", "dx": -3, "dy": -5, "color": "#111111"}, "encoding": {"x": {"datum": 270}, "y": {"datum": 35}}}
]},
{"width": 367, "height": 270, "layer": [
 {"data": {"name": "t"}, "transform": [{"fold": ["f1","f2","f3"], "as": ["k","v"]}],
  "mark": {"type": "point", "shape": "circle", "filled": false, "size": 20, "strokeWidth": 0.8, "opacity": 0.85},
  "encoding": {
   "x": {"field": "d", "type": "quantitative", "scale": {"domain": [-2,268], "nice": false}, "axis": {"values": [0,50,100,150,200,250], "title": "Days"}},
   "y": {"field": "v", "type": "quantitative", "scale": {"domain": [3.2,11.2], "nice": false, "zero": false}, "axis": {"values": [4,6,8,10], "title": "Uniformity [%]"}},
   "color": {"field": "k", "type": "nominal", "scale": {"domain": ["f1","f2","f3"], "range": ["#0000ff","#ff0000","#00e000"]},
     "legend": {"title": null, "orient": "none", "legendX": 95, "legendY": 29, "labelExpr": "datum.label == 'f1' ? 'Echo 1 (Unif < 10)' : datum.label == 'f2' ? 'Echo 2 (Unif < 10)' : 'Echo 3 (Unif < 10)'"}}}},
 {"data": {"values": [{}]}, "mark": {"type": "text", "text": "Body coil, MESE", "fontSize": 20, "dy": 22, "baseline": "alphabetic", "align": "center", "color": "#111111"}, "encoding": {"x": {"datum": 133}, "y": {"datum": 11.2}}},
 {"data": {"values": [{}]}, "mark": {"type": "text", "text": "(f)", "fontSize": 20, "align": "right", "baseline": "alphabetic", "dx": -3, "dy": -5, "color": "#111111"}, "encoding": {"x": {"datum": 268}, "y": {"datum": 3.2}}}
]}
],
"columns": 3,
"spacing": {"row": 63, "column": 66.5},
"bounds": "flush",
"resolve": {"scale": {"color": "independent", "x": "independent", "y": "independent"}, "legend": {"color": "independent"}},
"config": {
 "font": "Liberation Sans",
 "view": {"stroke": "#b4b4b4", "strokeWidth": 1},
 "axis": {"domain": false, "grid": false, "ticks": true, "tickSize": -5, "tickColor": "#b4b4b4", "labelFontSize": 20, "labelColor": "#262626", "titleFontSize": 22, "titleFontWeight": "normal", "titleColor": "#262626", "labelFlush": false, "labelOverlap": false},
 "axisX": {"labelPadding": 15, "titlePadding": 0},
 "axisY": {"labelPadding": 5, "titlePadding": 6},
 "legend": {"labelFont": "Liberation Sans", "labelFontSize": 18.5, "labelColor": "#111111", "fillColor": "white", "strokeColor": "#a6a6a6", "padding": 4, "rowPadding": 5, "symbolOffset": 2, "labelOffset": 1, "symbolSize": 20, "symbolStrokeWidth": 0.8, "symbolType": "circle", "labelLimit": 400, "cornerRadius": 0}
}
}
